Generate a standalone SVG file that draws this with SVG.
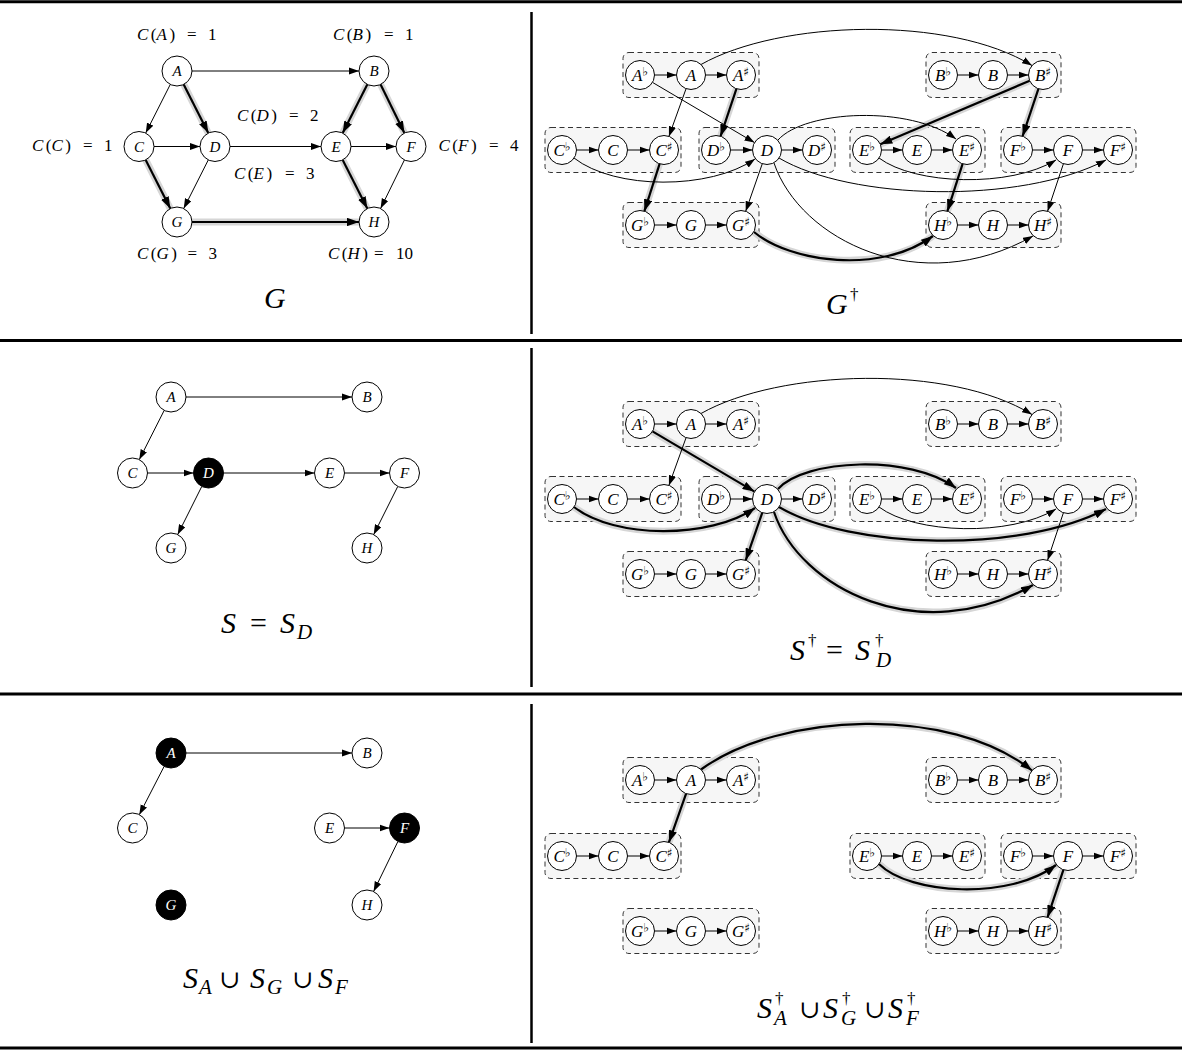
<svg xmlns="http://www.w3.org/2000/svg" width="1182" height="1053" viewBox="0 0 1182 1053" font-family="Liberation Serif, serif">
<defs>
<style>
.rule{stroke:#000;stroke-width:3;}
.vr{stroke:#000;stroke-width:2.5;}
.bx{fill:#f6f6f6;stroke:#333;stroke-width:1;stroke-dasharray:5 3.5;}
.nd{fill:#fff;stroke:#000;stroke-width:1;}
.nb{fill:#000;stroke:#000;stroke-width:1;}
text{font-family:"Liberation Serif","DejaVu Serif",serif;fill:#000;}
.nl{font-size:15px;font-style:italic;text-anchor:middle;}
.nw{fill:#fff;}
.nr{font-size:17px;text-anchor:middle;}
.it{font-style:italic;}
.sp{font-family:"DejaVu Serif",serif;font-size:12px;font-style:normal;}
.cost{font-size:17px;}
.cx{font-style:italic;letter-spacing:2.5px;}
.up{font-style:normal;letter-spacing:0;}
.cap{font-size:30px;}
.sub{font-size:21px;font-style:italic;}
.dg{font-size:17px;font-style:normal;}
.cup{font-family:"DejaVu Serif",serif;font-size:25px;}
.e{fill:none;stroke:#000;stroke-width:1;marker-end:url(#ah);}
.t{fill:none;stroke:#000;stroke-width:2.2;marker-end:url(#at);}
.h{fill:none;stroke:#d6d6d6;stroke-width:7;stroke-linecap:round;}
</style>
<marker id="ah" viewBox="0 0 10 7" refX="10" refY="3.5" markerWidth="10" markerHeight="7.5" markerUnits="userSpaceOnUse" orient="auto"><path d="M0,0L10,3.5L0,7z"/></marker>
<marker id="at" viewBox="0 0 10 7" refX="10" refY="3.5" markerWidth="12" markerHeight="8.5" markerUnits="userSpaceOnUse" orient="auto"><path d="M0,0L10,3.5L0,7z"/></marker>
</defs>
<rect width="1182" height="1053" fill="#fff"/>

<g id="frame">
<line class="rule" x1="0" y1="1.7" x2="1182" y2="1.7"/>
<line class="rule" x1="0" y1="340.5" x2="1182" y2="340.5"/>
<line class="rule" x1="0" y1="694" x2="1182" y2="694"/>
<line class="rule" x1="0" y1="1048" x2="1182" y2="1048"/>
<line class="vr" x1="531.5" y1="12" x2="531.5" y2="334"/>
<line class="vr" x1="531.5" y1="348" x2="531.5" y2="687"/>
<line class="vr" x1="531.5" y1="704" x2="531.5" y2="1043"/>
</g>

<g id="clusters">
<rect class="bx" x="623" y="52.5" width="136" height="45" rx="6"/>
<rect class="bx" x="926" y="52.5" width="135" height="45" rx="6"/>
<rect class="bx" x="545" y="127.5" width="136" height="45" rx="6"/>
<rect class="bx" x="699" y="127.5" width="136" height="45" rx="6"/>
<rect class="bx" x="850" y="127.5" width="135" height="45" rx="6"/>
<rect class="bx" x="1001" y="127.5" width="135" height="45" rx="6"/>
<rect class="bx" x="623" y="202.5" width="136" height="45" rx="6"/>
<rect class="bx" x="926" y="202.5" width="135" height="45" rx="6"/>

<rect class="bx" x="623" y="401.5" width="136" height="45" rx="6"/>
<rect class="bx" x="926" y="401.5" width="135" height="45" rx="6"/>
<rect class="bx" x="545" y="476.5" width="136" height="45" rx="6"/>
<rect class="bx" x="699" y="476.5" width="136" height="45" rx="6"/>
<rect class="bx" x="850" y="476.5" width="135" height="45" rx="6"/>
<rect class="bx" x="1001" y="476.5" width="135" height="45" rx="6"/>
<rect class="bx" x="623" y="551.5" width="136" height="45" rx="6"/>
<rect class="bx" x="926" y="551.5" width="135" height="45" rx="6"/>

<rect class="bx" x="623" y="757.5" width="136" height="45" rx="6"/>
<rect class="bx" x="926" y="757.5" width="135" height="45" rx="6"/>
<rect class="bx" x="545" y="833.5" width="136" height="45" rx="6"/>
<rect class="bx" x="850" y="833.5" width="135" height="45" rx="6"/>
<rect class="bx" x="1001" y="833.5" width="135" height="45" rx="6"/>
<rect class="bx" x="623" y="908.5" width="136" height="45" rx="6"/>
<rect class="bx" x="926" y="908.5" width="135" height="45" rx="6"/>
</g>

<g id="connectors">
<!-- top-left G -->
<path class="h" d="M183.7,84.4L208.3,133.1"/>
<path class="h" d="M145.7,159.9L170.3,208.6"/>
<path class="h" d="M367.3,84.4L342.7,133.1"/>
<path class="h" d="M380.6,84.5L404.4,133"/>
<path class="h" d="M342.7,159.9L367.3,208.6"/>
<path class="h" d="M192,222L359,222"/>
<path class="e" d="M192,71L359,71"/>
<path class="e" d="M170.3,84.4L145.7,133.1"/>
<path class="t" d="M183.7,84.4L208.3,133.1"/>
<path class="e" d="M154,146.5L200,146.5"/>
<path class="t" d="M145.7,159.9L170.3,208.6"/>
<path class="e" d="M208.3,159.9L183.7,208.6"/>
<path class="e" d="M230,146.5L321,146.5"/>
<path class="t" d="M367.3,84.4L342.7,133.1"/>
<path class="t" d="M380.6,84.5L404.4,133"/>
<path class="e" d="M351,146.5L396,146.5"/>
<path class="t" d="M342.7,159.9L367.3,208.6"/>
<path class="e" d="M404.4,160L380.6,208.5"/>
<path class="t" d="M192,222L359,222"/>

<!-- middle-left S -->
<path class="e" d="M186,397L352,397"/>
<path class="e" d="M164.2,410.4L139.3,459.6"/>
<path class="e" d="M147.5,473L193.5,473"/>
<path class="e" d="M223.5,473L314.5,473"/>
<path class="e" d="M201.8,486.4L177.7,534.6"/>
<path class="e" d="M344.5,473L389.5,473"/>
<path class="e" d="M397.8,486.4L373.7,534.6"/>

<!-- bottom-left -->
<path class="e" d="M186,753L352,753"/>
<path class="e" d="M164.2,766.3L139.3,814.7"/>
<path class="e" d="M344.5,828L389.5,828"/>
<path class="e" d="M397.9,841.5L373.6,891.5"/>

<!-- top-right internal -->
<path class="e" d="M654.5,75H676.5"/><path class="e" d="M705.5,75H726.5"/>
<path class="e" d="M957.5,75H978.5"/><path class="e" d="M1007.5,75H1028.5"/>
<path class="e" d="M576.5,150H598.5"/><path class="e" d="M627.5,150H649.5"/>
<path class="e" d="M730.5,150H752.5"/><path class="e" d="M781.5,150H802.5"/>
<path class="e" d="M881.5,150H902.5"/><path class="e" d="M931.5,150H952.5"/>
<path class="e" d="M1032.5,150H1053.5"/><path class="e" d="M1082.5,150H1103.5"/>
<path class="e" d="M654.5,225H676.5"/><path class="e" d="M705.5,225H726.5"/>
<path class="e" d="M957.5,225H978.5"/><path class="e" d="M1007.5,225H1028.5"/>
<!-- top-right cross edges -->
<path class="h" d="M736.4,88.8L720.6,136.2"/>
<path class="h" d="M659.6,163.8L644.4,211.2"/>
<path class="h" d="M754,232C790,262 880,275 933,236"/>
<path class="h" d="M1029.7,80.7L880.3,144.3"/>
<path class="h" d="M1038.4,88.8L1022.6,136.2"/>
<path class="h" d="M962.6,163.8L947.4,211.2"/>
<path class="e" d="M652.5,82.4L754.5,142.6"/>
<path class="e" d="M686.1,88.6L668.9,136.4"/>
<path class="t" d="M736.4,88.8L720.6,136.2"/>
<path class="e" d="M701,64.5C780,20 950,15 1032,65.5"/>
<path class="e" d="M574,158C615,190 710,190 755,159"/>
<path class="t" d="M659.6,163.8L644.4,211.2"/>
<path class="e" d="M762.3,163.7L745.7,211.3"/>
<path class="e" d="M778,140C805,110 910,105 956,139"/>
<path class="e" d="M779,158C850,200 1020,205 1106,160"/>
<path class="e" d="M774,163C800,240 920,300 1033,236"/>
<path class="t" d="M754,232C790,262 880,275 933,236"/>
<path class="t" d="M1029.7,80.7L880.3,144.3"/>
<path class="t" d="M1038.4,88.8L1022.6,136.2"/>
<path class="t" d="M962.6,163.8L947.4,211.2"/>
<path class="e" d="M879,158C915,185 1010,188 1056,160"/>
<path class="e" d="M1063.4,163.8L1047.6,211.2"/>

<!-- middle-right internal -->
<path class="e" d="M654.5,424H676.5"/><path class="e" d="M705.5,424H726.5"/>
<path class="e" d="M957.5,424H978.5"/><path class="e" d="M1007.5,424H1028.5"/>
<path class="e" d="M576.5,499H598.5"/><path class="e" d="M627.5,499H649.5"/>
<path class="e" d="M730.5,499H752.5"/><path class="e" d="M781.5,499H802.5"/>
<path class="e" d="M881.5,499H902.5"/><path class="e" d="M931.5,499H952.5"/>
<path class="e" d="M1032.5,499H1053.5"/><path class="e" d="M1082.5,499H1103.5"/>
<path class="e" d="M654.5,574H676.5"/><path class="e" d="M705.5,574H726.5"/>
<path class="e" d="M957.5,574H978.5"/><path class="e" d="M1007.5,574H1028.5"/>
<!-- middle-right cross edges -->
<path class="h" d="M652.5,431.4L754.5,491.6"/>
<path class="h" d="M574,507C615,539 710,539 755,508"/>
<path class="h" d="M778,489C805,459 910,454 956,488"/>
<path class="h" d="M779,507C850,549 1020,554 1106,509"/>
<path class="h" d="M762.3,512.7L745.7,560.3"/>
<path class="h" d="M774,512C800,589 920,649 1033,585"/>
<path class="e" d="M701,413.5C780,369 950,364 1032,414.5"/>
<path class="e" d="M686.1,437.6L668.9,485.4"/>
<path class="t" d="M652.5,431.4L754.5,491.6"/>
<path class="t" d="M574,507C615,539 710,539 755,508"/>
<path class="t" d="M778,489C805,459 910,454 956,488"/>
<path class="t" d="M779,507C850,549 1020,554 1106,509"/>
<path class="e" d="M879,507C915,534 1010,537 1056,509"/>
<path class="t" d="M762.3,512.7L745.7,560.3"/>
<path class="t" d="M774,512C800,589 920,649 1033,585"/>
<path class="e" d="M1063.4,512.8L1047.6,560.2"/>

<!-- bottom-right internal -->
<path class="e" d="M654.5,780H676.5"/><path class="e" d="M705.5,780H726.5"/>
<path class="e" d="M957.5,780H978.5"/><path class="e" d="M1007.5,780H1028.5"/>
<path class="e" d="M576.5,856H598.5"/><path class="e" d="M627.5,856H649.5"/>
<path class="e" d="M881.5,856H902.5"/><path class="e" d="M931.5,856H952.5"/>
<path class="e" d="M1032.5,856H1053.5"/><path class="e" d="M1082.5,856H1103.5"/>
<path class="e" d="M654.5,931H676.5"/><path class="e" d="M705.5,931H726.5"/>
<path class="e" d="M957.5,931H978.5"/><path class="e" d="M1007.5,931H1028.5"/>
<!-- bottom-right cross edges -->
<path class="h" d="M701,769.5C780,712 950,705 1032,770.5"/>
<path class="h" d="M686.1,793.7L668.9,842.3"/>
<path class="h" d="M879,864C910,895 1010,900 1056,865"/>
<path class="h" d="M1063.4,869.8L1047.6,917.2"/>
<path class="t" d="M701,769.5C780,712 950,705 1032,770.5"/>
<path class="t" d="M686.1,793.7L668.9,842.3"/>
<path class="t" d="M879,864C910,895 1010,900 1056,865"/>
<path class="t" d="M1063.4,869.8L1047.6,917.2"/>
</g>

<!-- top-left nodes -->
<g id="G-A"><circle class="nd" cx="177" cy="71" r="15"/><text class="nl" x="177" y="76">A</text></g>
<g id="G-B"><circle class="nd" cx="374" cy="71" r="15"/><text class="nl" x="374" y="76">B</text></g>
<g id="G-C"><circle class="nd" cx="139" cy="146.5" r="15"/><text class="nl" x="139" y="151.5">C</text></g>
<g id="G-D"><circle class="nd" cx="215" cy="146.5" r="15"/><text class="nl" x="215" y="151.5">D</text></g>
<g id="G-E"><circle class="nd" cx="336" cy="146.5" r="15"/><text class="nl" x="336" y="151.5">E</text></g>
<g id="G-F"><circle class="nd" cx="411" cy="146.5" r="15"/><text class="nl" x="411" y="151.5">F</text></g>
<g id="G-G"><circle class="nd" cx="177" cy="222" r="15"/><text class="nl" x="177" y="227">G</text></g>
<g id="G-H"><circle class="nd" cx="374" cy="222" r="15"/><text class="nl" x="374" y="227">H</text></g>

<g id="costs">
<text class="cost" x="137" y="40"><tspan class="cx">C<tspan class="up">(</tspan>A<tspan class="up">)</tspan></tspan><tspan x="187">=</tspan><tspan x="208">1</tspan></text>
<text class="cost" x="333" y="40"><tspan class="cx">C<tspan class="up">(</tspan>B<tspan class="up">)</tspan></tspan><tspan x="384">=</tspan><tspan x="405">1</tspan></text>
<text class="cost" x="237" y="121"><tspan class="cx">C<tspan class="up">(</tspan>D<tspan class="up">)</tspan></tspan><tspan x="289">=</tspan><tspan x="310">2</tspan></text>
<text class="cost" x="32" y="150.5"><tspan class="cx">C<tspan class="up">(</tspan>C<tspan class="up">)</tspan></tspan><tspan x="83">=</tspan><tspan x="104">1</tspan></text>
<text class="cost" x="234" y="179"><tspan class="cx">C<tspan class="up">(</tspan>E<tspan class="up">)</tspan></tspan><tspan x="285">=</tspan><tspan x="306">3</tspan></text>
<text class="cost" x="438.5" y="150.5"><tspan class="cx">C<tspan class="up">(</tspan>F<tspan class="up">)</tspan></tspan><tspan x="489">=</tspan><tspan x="510">4</tspan></text>
<text class="cost" x="137" y="258.5"><tspan class="cx">C<tspan class="up">(</tspan>G<tspan class="up">)</tspan></tspan><tspan x="187.5">=</tspan><tspan x="208.5">3</tspan></text>
<text class="cost" x="328" y="258.5"><tspan class="cx">C<tspan class="up">(</tspan>H<tspan class="up">)</tspan></tspan><tspan x="374">=</tspan><tspan x="396">10</tspan></text>
</g>

<!-- middle-left nodes -->
<g id="S-A"><circle class="nd" cx="171" cy="397" r="15"/><text class="nl" x="171" y="402">A</text></g>
<g id="S-B"><circle class="nd" cx="367" cy="397" r="15"/><text class="nl" x="367" y="402">B</text></g>
<g id="S-C"><circle class="nd" cx="132.5" cy="473" r="15"/><text class="nl" x="132.5" y="478">C</text></g>
<g id="S-D"><circle class="nb" cx="208.5" cy="473" r="15"/><text class="nl nw" x="208.5" y="478">D</text></g>
<g id="S-E"><circle class="nd" cx="329.5" cy="473" r="15"/><text class="nl" x="329.5" y="478">E</text></g>
<g id="S-F"><circle class="nd" cx="404.5" cy="473" r="15"/><text class="nl" x="404.5" y="478">F</text></g>
<g id="S-G"><circle class="nd" cx="171" cy="548" r="15"/><text class="nl" x="171" y="553">G</text></g>
<g id="S-H"><circle class="nd" cx="367" cy="548" r="15"/><text class="nl" x="367" y="553">H</text></g>

<!-- bottom-left nodes -->
<g id="U-A"><circle class="nb" cx="171" cy="753" r="15"/><text class="nl nw" x="171" y="758">A</text></g>
<g id="U-B"><circle class="nd" cx="367" cy="753" r="15"/><text class="nl" x="367" y="758">B</text></g>
<g id="U-C"><circle class="nd" cx="132.5" cy="828" r="15"/><text class="nl" x="132.5" y="833">C</text></g>
<g id="U-E"><circle class="nd" cx="329.5" cy="828" r="15"/><text class="nl" x="329.5" y="833">E</text></g>
<g id="U-F"><circle class="nb" cx="404.5" cy="828" r="15"/><text class="nl nw" x="404.5" y="833">F</text></g>
<g id="U-G"><circle class="nb" cx="171" cy="905" r="15"/><text class="nl nw" x="171" y="910">G</text></g>
<g id="U-H"><circle class="nd" cx="367" cy="905" r="15"/><text class="nl" x="367" y="910">H</text></g>

<!-- top-right nodes -->
<g id="Gd-Ab"><circle class="nd" cx="640" cy="75" r="14.5"/><text class="nr" x="640" y="81"><tspan class="it">A</tspan><tspan class="sp" dy="-5">♭</tspan></text></g>
<g id="Gd-A"><circle class="nd" cx="691" cy="75" r="14.5"/><text class="nr it" x="691" y="81">A</text></g>
<g id="Gd-As"><circle class="nd" cx="741" cy="75" r="14.5"/><text class="nr" x="741" y="81"><tspan class="it">A</tspan><tspan class="sp" dy="-5">♯</tspan></text></g>
<g id="Gd-Bb"><circle class="nd" cx="943" cy="75" r="14.5"/><text class="nr" x="943" y="81"><tspan class="it">B</tspan><tspan class="sp" dy="-5">♭</tspan></text></g>
<g id="Gd-B"><circle class="nd" cx="993" cy="75" r="14.5"/><text class="nr it" x="993" y="81">B</text></g>
<g id="Gd-Bs"><circle class="nd" cx="1043" cy="75" r="14.5"/><text class="nr" x="1043" y="81"><tspan class="it">B</tspan><tspan class="sp" dy="-5">♯</tspan></text></g>
<g id="Gd-Cb"><circle class="nd" cx="562" cy="150" r="14.5"/><text class="nr" x="562" y="156"><tspan class="it">C</tspan><tspan class="sp" dy="-5">♭</tspan></text></g>
<g id="Gd-C"><circle class="nd" cx="613" cy="150" r="14.5"/><text class="nr it" x="613" y="156">C</text></g>
<g id="Gd-Cs"><circle class="nd" cx="664" cy="150" r="14.5"/><text class="nr" x="664" y="156"><tspan class="it">C</tspan><tspan class="sp" dy="-5">♯</tspan></text></g>
<g id="Gd-Db"><circle class="nd" cx="716" cy="150" r="14.5"/><text class="nr" x="716" y="156"><tspan class="it">D</tspan><tspan class="sp" dy="-5">♭</tspan></text></g>
<g id="Gd-D"><circle class="nd" cx="767" cy="150" r="14.5"/><text class="nr it" x="767" y="156">D</text></g>
<g id="Gd-Ds"><circle class="nd" cx="817" cy="150" r="14.5"/><text class="nr" x="817" y="156"><tspan class="it">D</tspan><tspan class="sp" dy="-5">♯</tspan></text></g>
<g id="Gd-Eb"><circle class="nd" cx="867" cy="150" r="14.5"/><text class="nr" x="867" y="156"><tspan class="it">E</tspan><tspan class="sp" dy="-5">♭</tspan></text></g>
<g id="Gd-E"><circle class="nd" cx="917" cy="150" r="14.5"/><text class="nr it" x="917" y="156">E</text></g>
<g id="Gd-Es"><circle class="nd" cx="967" cy="150" r="14.5"/><text class="nr" x="967" y="156"><tspan class="it">E</tspan><tspan class="sp" dy="-5">♯</tspan></text></g>
<g id="Gd-Fb"><circle class="nd" cx="1018" cy="150" r="14.5"/><text class="nr" x="1018" y="156"><tspan class="it">F</tspan><tspan class="sp" dy="-5">♭</tspan></text></g>
<g id="Gd-F"><circle class="nd" cx="1068" cy="150" r="14.5"/><text class="nr it" x="1068" y="156">F</text></g>
<g id="Gd-Fs"><circle class="nd" cx="1118" cy="150" r="14.5"/><text class="nr" x="1118" y="156"><tspan class="it">F</tspan><tspan class="sp" dy="-5">♯</tspan></text></g>
<g id="Gd-Gb"><circle class="nd" cx="640" cy="225" r="14.5"/><text class="nr" x="640" y="231"><tspan class="it">G</tspan><tspan class="sp" dy="-5">♭</tspan></text></g>
<g id="Gd-G"><circle class="nd" cx="691" cy="225" r="14.5"/><text class="nr it" x="691" y="231">G</text></g>
<g id="Gd-Gs"><circle class="nd" cx="741" cy="225" r="14.5"/><text class="nr" x="741" y="231"><tspan class="it">G</tspan><tspan class="sp" dy="-5">♯</tspan></text></g>
<g id="Gd-Hb"><circle class="nd" cx="943" cy="225" r="14.5"/><text class="nr" x="943" y="231"><tspan class="it">H</tspan><tspan class="sp" dy="-5">♭</tspan></text></g>
<g id="Gd-H"><circle class="nd" cx="993" cy="225" r="14.5"/><text class="nr it" x="993" y="231">H</text></g>
<g id="Gd-Hs"><circle class="nd" cx="1043" cy="225" r="14.5"/><text class="nr" x="1043" y="231"><tspan class="it">H</tspan><tspan class="sp" dy="-5">♯</tspan></text></g>

<!-- middle-right nodes -->
<g id="Sd-Ab"><circle class="nd" cx="640" cy="424" r="14.5"/><text class="nr" x="640" y="430"><tspan class="it">A</tspan><tspan class="sp" dy="-5">♭</tspan></text></g>
<g id="Sd-A"><circle class="nd" cx="691" cy="424" r="14.5"/><text class="nr it" x="691" y="430">A</text></g>
<g id="Sd-As"><circle class="nd" cx="741" cy="424" r="14.5"/><text class="nr" x="741" y="430"><tspan class="it">A</tspan><tspan class="sp" dy="-5">♯</tspan></text></g>
<g id="Sd-Bb"><circle class="nd" cx="943" cy="424" r="14.5"/><text class="nr" x="943" y="430"><tspan class="it">B</tspan><tspan class="sp" dy="-5">♭</tspan></text></g>
<g id="Sd-B"><circle class="nd" cx="993" cy="424" r="14.5"/><text class="nr it" x="993" y="430">B</text></g>
<g id="Sd-Bs"><circle class="nd" cx="1043" cy="424" r="14.5"/><text class="nr" x="1043" y="430"><tspan class="it">B</tspan><tspan class="sp" dy="-5">♯</tspan></text></g>
<g id="Sd-Cb"><circle class="nd" cx="562" cy="499" r="14.5"/><text class="nr" x="562" y="505"><tspan class="it">C</tspan><tspan class="sp" dy="-5">♭</tspan></text></g>
<g id="Sd-C"><circle class="nd" cx="613" cy="499" r="14.5"/><text class="nr it" x="613" y="505">C</text></g>
<g id="Sd-Cs"><circle class="nd" cx="664" cy="499" r="14.5"/><text class="nr" x="664" y="505"><tspan class="it">C</tspan><tspan class="sp" dy="-5">♯</tspan></text></g>
<g id="Sd-Db"><circle class="nd" cx="716" cy="499" r="14.5"/><text class="nr" x="716" y="505"><tspan class="it">D</tspan><tspan class="sp" dy="-5">♭</tspan></text></g>
<g id="Sd-D"><circle class="nd" cx="767" cy="499" r="14.5"/><text class="nr it" x="767" y="505">D</text></g>
<g id="Sd-Ds"><circle class="nd" cx="817" cy="499" r="14.5"/><text class="nr" x="817" y="505"><tspan class="it">D</tspan><tspan class="sp" dy="-5">♯</tspan></text></g>
<g id="Sd-Eb"><circle class="nd" cx="867" cy="499" r="14.5"/><text class="nr" x="867" y="505"><tspan class="it">E</tspan><tspan class="sp" dy="-5">♭</tspan></text></g>
<g id="Sd-E"><circle class="nd" cx="917" cy="499" r="14.5"/><text class="nr it" x="917" y="505">E</text></g>
<g id="Sd-Es"><circle class="nd" cx="967" cy="499" r="14.5"/><text class="nr" x="967" y="505"><tspan class="it">E</tspan><tspan class="sp" dy="-5">♯</tspan></text></g>
<g id="Sd-Fb"><circle class="nd" cx="1018" cy="499" r="14.5"/><text class="nr" x="1018" y="505"><tspan class="it">F</tspan><tspan class="sp" dy="-5">♭</tspan></text></g>
<g id="Sd-F"><circle class="nd" cx="1068" cy="499" r="14.5"/><text class="nr it" x="1068" y="505">F</text></g>
<g id="Sd-Fs"><circle class="nd" cx="1118" cy="499" r="14.5"/><text class="nr" x="1118" y="505"><tspan class="it">F</tspan><tspan class="sp" dy="-5">♯</tspan></text></g>
<g id="Sd-Gb"><circle class="nd" cx="640" cy="574" r="14.5"/><text class="nr" x="640" y="580"><tspan class="it">G</tspan><tspan class="sp" dy="-5">♭</tspan></text></g>
<g id="Sd-G"><circle class="nd" cx="691" cy="574" r="14.5"/><text class="nr it" x="691" y="580">G</text></g>
<g id="Sd-Gs"><circle class="nd" cx="741" cy="574" r="14.5"/><text class="nr" x="741" y="580"><tspan class="it">G</tspan><tspan class="sp" dy="-5">♯</tspan></text></g>
<g id="Sd-Hb"><circle class="nd" cx="943" cy="574" r="14.5"/><text class="nr" x="943" y="580"><tspan class="it">H</tspan><tspan class="sp" dy="-5">♭</tspan></text></g>
<g id="Sd-H"><circle class="nd" cx="993" cy="574" r="14.5"/><text class="nr it" x="993" y="580">H</text></g>
<g id="Sd-Hs"><circle class="nd" cx="1043" cy="574" r="14.5"/><text class="nr" x="1043" y="580"><tspan class="it">H</tspan><tspan class="sp" dy="-5">♯</tspan></text></g>

<!-- bottom-right nodes -->
<g id="Ud-Ab"><circle class="nd" cx="640" cy="780" r="14.5"/><text class="nr" x="640" y="786"><tspan class="it">A</tspan><tspan class="sp" dy="-5">♭</tspan></text></g>
<g id="Ud-A"><circle class="nd" cx="691" cy="780" r="14.5"/><text class="nr it" x="691" y="786">A</text></g>
<g id="Ud-As"><circle class="nd" cx="741" cy="780" r="14.5"/><text class="nr" x="741" y="786"><tspan class="it">A</tspan><tspan class="sp" dy="-5">♯</tspan></text></g>
<g id="Ud-Bb"><circle class="nd" cx="943" cy="780" r="14.5"/><text class="nr" x="943" y="786"><tspan class="it">B</tspan><tspan class="sp" dy="-5">♭</tspan></text></g>
<g id="Ud-B"><circle class="nd" cx="993" cy="780" r="14.5"/><text class="nr it" x="993" y="786">B</text></g>
<g id="Ud-Bs"><circle class="nd" cx="1043" cy="780" r="14.5"/><text class="nr" x="1043" y="786"><tspan class="it">B</tspan><tspan class="sp" dy="-5">♯</tspan></text></g>
<g id="Ud-Cb"><circle class="nd" cx="562" cy="856" r="14.5"/><text class="nr" x="562" y="862"><tspan class="it">C</tspan><tspan class="sp" dy="-5">♭</tspan></text></g>
<g id="Ud-C"><circle class="nd" cx="613" cy="856" r="14.5"/><text class="nr it" x="613" y="862">C</text></g>
<g id="Ud-Cs"><circle class="nd" cx="664" cy="856" r="14.5"/><text class="nr" x="664" y="862"><tspan class="it">C</tspan><tspan class="sp" dy="-5">♯</tspan></text></g>
<g id="Ud-Eb"><circle class="nd" cx="867" cy="856" r="14.5"/><text class="nr" x="867" y="862"><tspan class="it">E</tspan><tspan class="sp" dy="-5">♭</tspan></text></g>
<g id="Ud-E"><circle class="nd" cx="917" cy="856" r="14.5"/><text class="nr it" x="917" y="862">E</text></g>
<g id="Ud-Es"><circle class="nd" cx="967" cy="856" r="14.5"/><text class="nr" x="967" y="862"><tspan class="it">E</tspan><tspan class="sp" dy="-5">♯</tspan></text></g>
<g id="Ud-Fb"><circle class="nd" cx="1018" cy="856" r="14.5"/><text class="nr" x="1018" y="862"><tspan class="it">F</tspan><tspan class="sp" dy="-5">♭</tspan></text></g>
<g id="Ud-F"><circle class="nd" cx="1068" cy="856" r="14.5"/><text class="nr it" x="1068" y="862">F</text></g>
<g id="Ud-Fs"><circle class="nd" cx="1118" cy="856" r="14.5"/><text class="nr" x="1118" y="862"><tspan class="it">F</tspan><tspan class="sp" dy="-5">♯</tspan></text></g>
<g id="Ud-Gb"><circle class="nd" cx="640" cy="931" r="14.5"/><text class="nr" x="640" y="937"><tspan class="it">G</tspan><tspan class="sp" dy="-5">♭</tspan></text></g>
<g id="Ud-G"><circle class="nd" cx="691" cy="931" r="14.5"/><text class="nr it" x="691" y="937">G</text></g>
<g id="Ud-Gs"><circle class="nd" cx="741" cy="931" r="14.5"/><text class="nr" x="741" y="937"><tspan class="it">G</tspan><tspan class="sp" dy="-5">♯</tspan></text></g>
<g id="Ud-Hb"><circle class="nd" cx="943" cy="931" r="14.5"/><text class="nr" x="943" y="937"><tspan class="it">H</tspan><tspan class="sp" dy="-5">♭</tspan></text></g>
<g id="Ud-H"><circle class="nd" cx="993" cy="931" r="14.5"/><text class="nr it" x="993" y="937">H</text></g>
<g id="Ud-Hs"><circle class="nd" cx="1043" cy="931" r="14.5"/><text class="nr" x="1043" y="937"><tspan class="it">H</tspan><tspan class="sp" dy="-5">♯</tspan></text></g>

<g id="captions">
<text class="cap it" x="264" y="308">G</text>
<text class="cap" x="826" y="314"><tspan class="it">G</tspan><tspan class="dg" x="850" y="300">†</tspan></text>
<text class="cap" x="221" y="633"><tspan class="it">S</tspan><tspan x="250">=</tspan><tspan class="it" x="280">S</tspan><tspan class="sub" x="297" y="639">D</tspan></text>
<text class="cap" x="790" y="660"><tspan class="it">S</tspan><tspan class="dg" x="808" y="646">†</tspan><tspan x="826" y="660">=</tspan><tspan class="it" x="855" y="660">S</tspan><tspan class="dg" x="875" y="646">†</tspan><tspan class="sub" x="876" y="667">D</tspan></text>
<text class="cap" x="183" y="988"><tspan class="it">S</tspan><tspan class="sub" x="199" y="994">A</tspan><tspan class="cup" x="219" y="988">∪</tspan><tspan class="it" x="250" y="988">S</tspan><tspan class="sub" x="267" y="994">G</tspan><tspan class="cup" x="292" y="988">∪</tspan><tspan class="it" x="318" y="988">S</tspan><tspan class="sub" x="335" y="994">F</tspan></text>
<text class="cap" x="757" y="1018"><tspan class="it">S</tspan><tspan class="dg" x="775" y="1004">†</tspan><tspan class="sub" x="774" y="1025">A</tspan><tspan class="cup" x="799" y="1018">∪</tspan><tspan class="it" x="823" y="1018">S</tspan><tspan class="dg" x="842" y="1004">†</tspan><tspan class="sub" x="841" y="1025">G</tspan><tspan class="cup" x="864" y="1018">∪</tspan><tspan class="it" x="888" y="1018">S</tspan><tspan class="dg" x="907" y="1004">†</tspan><tspan class="sub" x="906" y="1025">F</tspan></text>
</g>
</svg>
